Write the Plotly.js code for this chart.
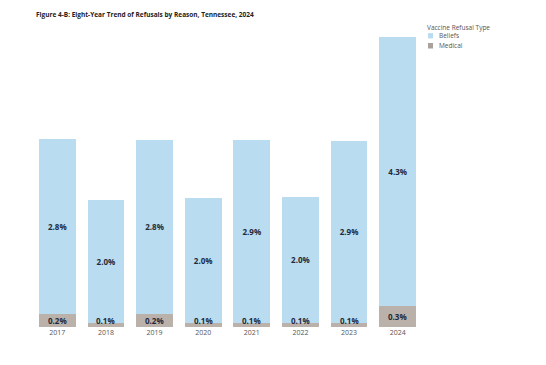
<!DOCTYPE html>
<html>
<head>
<meta charset="utf-8">
<script src="https://cdn.plot.ly/plotly-3.0.1.min.js"></script>
<style>html,body{margin:0;padding:0;background:#fff;}#chart{width:546px;height:365px;}</style>
</head>
<body>
<div id="chart"></div>
<script>
const years = ['2017','2018','2019','2020','2021','2022','2023','2024'];
const beliefs = [2.82, 1.98, 2.81, 2.01, 2.94, 2.03, 2.93, 4.34];
const medical = [0.21, 0.07, 0.21, 0.07, 0.07, 0.07, 0.07, 0.34];

const beliefsColor = '#b9dcf0';
const medicalColor = '#bbb1ab';
const labelFont = {family: 'Open Sans, sans-serif', size: 8, color: '#1e2a3c', weight: 'bold'};

const traces = [
  {type: 'bar', name: 'Medical', x: years, y: medical, marker: {color: medicalColor},
   textposition: 'none', hoverinfo: 'skip'},
  {type: 'bar', name: 'Beliefs', x: years, y: beliefs, marker: {color: beliefsColor},
   texttemplate: '<b>%{y:.1f}%</b>', textposition: 'inside', insidetextanchor: 'middle',
   textangle: 0, insidetextfont: labelFont, hoverinfo: 'skip'}
];

const annotations = years.map((yr, i) => ({
  x: i, y: Math.max(medical[i] / 2, 0.11), xref: 'x', yref: 'y',
  text: '<b>' + medical[i].toFixed(1) + '%</b>', showarrow: false,
  font: labelFont, yanchor: 'middle'
}));

const legendFont = {family: 'Open Sans, sans-serif', size: 6.5, color: '#555555'};
annotations.push(
  {xref: 'paper', yref: 'paper', x: 1.0077, y: 0.950, xanchor: 'left', yanchor: 'middle',
   text: 'Vaccine Refusal Type', showarrow: false, font: legendFont},
  {xref: 'paper', yref: 'paper', x: 1.0386, y: 0.9248, xanchor: 'left', yanchor: 'middle',
   text: 'Beliefs', showarrow: false, font: legendFont},
  {xref: 'paper', yref: 'paper', x: 1.0386, y: 0.8930, xanchor: 'left', yanchor: 'middle',
   text: 'Medical', showarrow: false, font: legendFont}
);

const shapes = [
  {type: 'rect', xref: 'paper', yref: 'paper', x0: 1.0154, x1: 1.0283, y0: 0.916, y1: 0.933,
   fillcolor: beliefsColor, line: {width: 0}},
  {type: 'rect', xref: 'paper', yref: 'paper', x0: 1.0154, x1: 1.0283, y0: 0.8841, y1: 0.9016,
   fillcolor: '#a8a19c', line: {width: 0}}
];

const layout = {
  width: 546, height: 365,
  margin: {l: 33, r: 124, t: 12, b: 38, pad: 0},
  paper_bgcolor: '#ffffff', plot_bgcolor: '#ffffff',
  barmode: 'stack', bargap: 0.245,
  showlegend: false,
  title: {text: '<b>Figure 4-B: Eight-Year Trend of Refusals by Reason, Tennessee, 2024</b>',
    font: {family: 'Open Sans, sans-serif', size: 6.5, color: '#222222'},
    xref: 'container', yref: 'container', x: 0.066, xanchor: 'left', y: 0.959, yanchor: 'middle'},
  xaxis: {type: 'category', range: [-0.5, 7.5], autorange: false, showgrid: false, zeroline: false,
    showline: false, ticks: '',
    tickfont: {family: 'Open Sans, sans-serif', size: 7, color: '#555555'}},
  yaxis: {range: [0, 5.08], autorange: false, visible: false, showgrid: false, zeroline: false},
  annotations: annotations,
  shapes: shapes
};

Plotly.newPlot('chart', traces, layout, {displayModeBar: false, staticPlot: true});
</script>
</body>
</html>
